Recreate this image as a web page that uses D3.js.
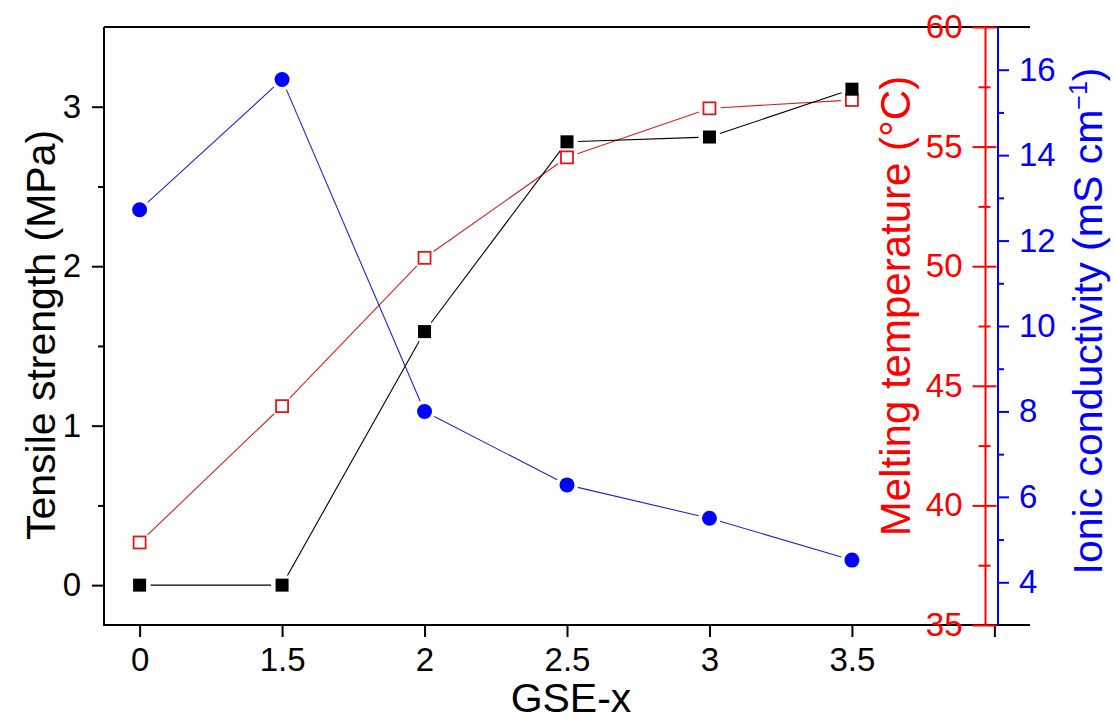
<!DOCTYPE html>
<html>
<head>
<style>
  body { margin: 0; background: #fff; }
  svg { display: block; }
  text { font-family: "Liberation Sans", Arial, sans-serif; }
</style>
</head>
<body>
<svg id="chart" width="1115" height="720"></svg>
<script src="https://d3js.org/d3.v7.min.js"></script>
<script>
// data
const gse = ["0", "1.5", "2", "2.5", "3", "3.5"];
const tensile = [0, 0, 1.59, 2.78, 2.81, 3.11];          // MPa, left axis
const melting = [38.45, 44.15, 50.35, 54.55, 56.6, 56.95]; // deg C, red axis
const ionic = [12.72, 15.77, 8.0, 6.28, 5.5, 4.52];       // mS/cm, blue axis

const leftTicks = [0, 1, 2, 3];
const redTicks = [35, 40, 45, 50, 55, 60];
const blueTicks = [4, 6, 8, 10, 12, 14, 16];

const svg = d3.select("#chart");
const plotL = 104, plotR = 1030, plotT = 27, plotB = 625;
const redX = 985.5, blueX = 998;

const x = d3.scaleLinear().domain([-0.25, 6.25]).range([plotL, plotR]);
const yL = d3.scaleLinear().domain([-0.25, 3.5]).range([plotB, plotT]);
const yR = d3.scaleLinear().domain([35, 60]).range([plotB, plotT]);
const yB = d3.scaleLinear().domain([3, 17]).range([plotB, plotT]);

function styleAxis(g, color, fs) {
  g.select(".domain").remove();
  g.selectAll("line").attr("stroke", color).attr("stroke-width", 2);
  g.selectAll("text").attr("fill", color).style("font-size", fs + "px");
}

// frame lines (top and bottom run across to the right, no right spine)
svg.append("line").attr("x1", plotL).attr("x2", plotR).attr("y1", plotT).attr("y2", plotT)
  .attr("stroke", "#000").attr("stroke-width", 2);
svg.append("line").attr("x1", plotL).attr("x2", plotR).attr("y1", plotB).attr("y2", plotB)
  .attr("stroke", "#000").attr("stroke-width", 2);
svg.append("line").attr("x1", plotL).attr("x2", plotL).attr("y1", plotT).attr("y2", plotB + 1)
  .attr("stroke", "#000").attr("stroke-width", 2);

// x axis
svg.append("g").attr("transform", `translate(0,${plotB})`)
  .call(d3.axisBottom(x).tickValues(d3.range(7)).tickSize(12).tickPadding(11)
    .tickFormat(i => gse[i] === undefined ? "" : gse[i]))
  .call(g => styleAxis(g, "#000", 33));

// left axis, major + minor
svg.append("g").attr("transform", `translate(${plotL},0)`)
  .call(d3.axisLeft(yL).tickValues(leftTicks).tickSize(12).tickPadding(11).tickFormat(d3.format("d")))
  .call(g => styleAxis(g, "#000", 33));
svg.append("g").attr("transform", `translate(${plotL},0)`)
  .call(d3.axisLeft(yL).tickValues([0.5, 1.5, 2.5]).tickSize(6).tickFormat(""))
  .call(g => styleAxis(g, "#000", 33));

// red axis (ticks cross the line)
svg.append("line").attr("x1", redX).attr("x2", redX).attr("y1", plotT - 1).attr("y2", plotB)
  .attr("stroke", "#ff0000").attr("stroke-width", 2);
svg.append("g").attr("transform", `translate(${redX},0)`)
  .call(d3.axisLeft(yR).tickValues(redTicks).tickSize(13).tickPadding(10))
  .call(g => styleAxis(g, "#ff0000", 33));
svg.append("g").attr("transform", `translate(${redX},0)`)
  .call(d3.axisRight(yR).tickValues(redTicks).tickSize(11).tickFormat(""))
  .call(g => styleAxis(g, "#ff0000", 33));
svg.append("g").attr("transform", `translate(${redX},0)`)
  .call(d3.axisLeft(yR).tickValues([37.5, 42.5, 47.5, 52.5, 57.5]).tickSize(7).tickFormat(""))
  .call(g => styleAxis(g, "#ff0000", 33));
svg.append("g").attr("transform", `translate(${redX},0)`)
  .call(d3.axisRight(yR).tickValues([37.5, 42.5, 47.5, 52.5, 57.5]).tickSize(5).tickFormat(""))
  .call(g => styleAxis(g, "#ff0000", 33));

// blue axis
svg.append("line").attr("x1", blueX).attr("x2", blueX).attr("y1", plotT).attr("y2", plotB)
  .attr("stroke", "#0000ff").attr("stroke-width", 2);
svg.append("g").attr("transform", `translate(${blueX},0)`)
  .call(d3.axisRight(yB).tickValues(blueTicks).tickSize(11).tickPadding(10))
  .call(g => styleAxis(g, "#0000ff", 33));
svg.append("g").attr("transform", `translate(${blueX},0)`)
  .call(d3.axisRight(yB).tickValues([5, 7, 9, 11, 13, 15]).tickSize(6).tickFormat(""))
  .call(g => styleAxis(g, "#0000ff", 33));

// connecting lines with a small gap at each marker
function gapLines(vals, yScale, color, gap) {
  const pts = vals.map((v, i) => [x(i), yScale(v)]);
  const g = svg.append("g");
  for (let i = 0; i < pts.length - 1; i++) {
    const [x1, y1] = pts[i], [x2, y2] = pts[i + 1];
    const len = Math.hypot(x2 - x1, y2 - y1);
    if (len <= 2 * gap) continue;
    const ux = (x2 - x1) / len, uy = (y2 - y1) / len;
    g.append("line")
      .attr("x1", x1 + ux * gap).attr("y1", y1 + uy * gap)
      .attr("x2", x2 - ux * gap).attr("y2", y2 - uy * gap)
      .attr("stroke", color).attr("stroke-width", 1.1);
  }
}
gapLines(melting, yR, "#d92020", 11);
gapLines(tensile, yL, "#000", 11);
gapLines(ionic, yB, "#2222cc", 11);

// markers
svg.append("g").selectAll("rect").data(melting).join("rect")
  .attr("x", (d, i) => x(i) - 6).attr("y", d => yR(d) - 6)
  .attr("width", 12).attr("height", 12)
  .attr("fill", "#fff").attr("stroke", "#e01818").attr("stroke-width", 1.8);
svg.append("g").selectAll("rect").data(tensile).join("rect")
  .attr("x", (d, i) => x(i) - 6.5).attr("y", d => yL(d) - 6.5)
  .attr("width", 13).attr("height", 13).attr("fill", "#000");
svg.append("g").selectAll("circle").data(ionic).join("circle")
  .attr("cx", (d, i) => x(i)).attr("cy", d => yB(d)).attr("r", 7.5)
  .attr("fill", "#0000ff");

// axis titles
svg.append("text").attr("x", 571).attr("y", 712).attr("text-anchor", "middle")
  .style("font-size", "41px").attr("fill", "#000").text("GSE-x");
svg.append("text").attr("transform", "translate(55,335) rotate(-90)").attr("text-anchor", "middle")
  .style("font-size", "41px").attr("fill", "#000").text("Tensile strength (MPa)");
svg.append("text").attr("transform", "translate(910,306) rotate(-90)").attr("text-anchor", "middle")
  .style("font-size", "42px").attr("fill", "#ff0000").text("Melting temperature (°C)");
const bt = svg.append("text").attr("transform", "translate(1102,321) rotate(-90)").attr("text-anchor", "middle")
  .style("font-size", "41px").attr("fill", "#0000ff");
bt.append("tspan").text("Ionic conductivity (mS cm");
bt.append("tspan").attr("dy", -15).style("font-size", "25px").text("−1");
bt.append("tspan").attr("dy", 15).text(")");
</script>
</body>
</html>
